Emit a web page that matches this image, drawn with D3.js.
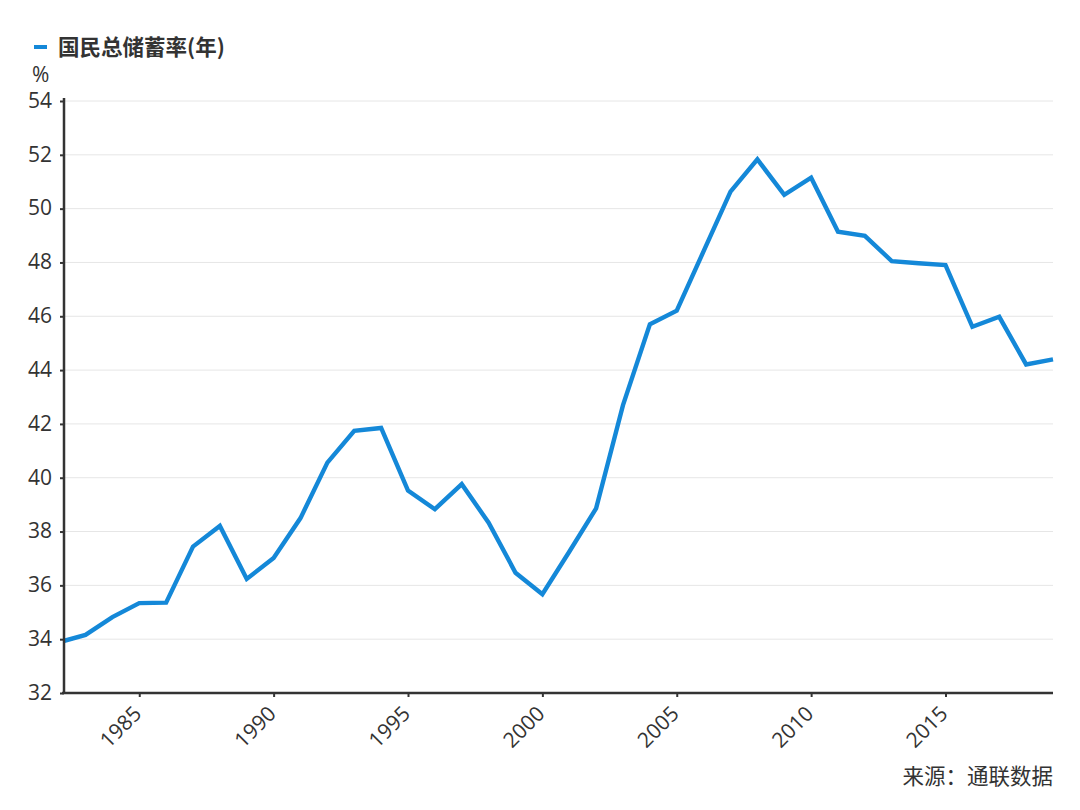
<!DOCTYPE html>
<html>
<head>
<meta charset="utf-8">
<script src="https://cdn.jsdelivr.net/npm/d3@7"></script>
<style>
  html, body { margin: 0; padding: 0; background: #fff; }
  svg { display: block; }
  text { font-family: "Open Sans", "Noto Sans CJK SC", sans-serif; fill: #333; }
  .cjk { font-family: "Noto Sans CJK SC", "Open Sans", sans-serif; }
</style>
</head>
<body>
<svg id="chart" width="1080" height="810"></svg>
<script>
const seriesName = "国民总储蓄率(年)";
const unitLabel = "%";
const sourceText = "来源：通联数据";
const years = [1982, 1983, 1984, 1985, 1986, 1987, 1988, 1989, 1990, 1991,
  1992, 1993, 1994, 1995, 1996, 1997, 1998, 1999, 2000, 2001,
  2002, 2003, 2004, 2005, 2006, 2007, 2008, 2009, 2010, 2011,
  2012, 2013, 2014, 2015, 2016, 2017, 2018, 2019];
const savingRate = [33.88, 34.16, 34.82, 35.34, 35.36, 37.44, 38.21, 36.24, 37.02, 38.50,
  40.56, 41.74, 41.85, 39.52, 38.83, 39.76, 38.33, 36.47, 35.67, 37.25,
  38.86, 42.70, 45.70, 46.21, 48.42, 50.63, 51.83, 50.51, 51.15, 49.14,
  48.99, 48.05, 47.97, 47.90, 45.61, 45.98, 44.21, 44.40];
const xTickYears = [1985, 1990, 1995, 2000, 2005, 2010, 2015];
const yTicks = [32, 34, 36, 38, 40, 42, 44, 46, 48, 50, 52, 54];
const xDomain = [1982.2, 2019];
const yDomain = [32, 54];

(function () {
const svg = d3.select("#chart");
const pLeft = 64, pRight = 1053, pTop = 101, pBottom = 693;

const x = d3.scaleLinear().domain(xDomain).range([pLeft, pRight]);
const y = d3.scaleLinear().domain(yDomain).range([pBottom, pTop]);

// gridlines
svg.append("g").selectAll("line").data(yTicks.filter(d => d !== yDomain[0])).join("line")
  .attr("x1", pLeft).attr("x2", pRight)
  .attr("y1", d => y(d)).attr("y2", d => y(d))
  .attr("stroke", "#e6e6e6").attr("stroke-width", 1);

// clip
svg.append("defs").append("clipPath").attr("id", "plotclip")
  .append("rect").attr("x", pLeft).attr("y", pTop - 20).attr("width", pRight - pLeft + 2).attr("height", pBottom - pTop + 40);

// line
const data = years.map((yr, i) => ({ yr, v: savingRate[i] }));
svg.append("path").datum(data)
  .attr("clip-path", "url(#plotclip)")
  .attr("fill", "none")
  .attr("stroke", "#1488d8")
  .attr("stroke-width", 4.4)
  .attr("d", d3.line().x(d => x(d.yr)).y(d => y(d.v)));

// y axis
const yAxis = svg.append("g").attr("transform", `translate(${pLeft},0)`)
  .call(d3.axisLeft(y).tickValues(yTicks).tickSize(4).tickPadding(8).tickFormat(d3.format("d")));
yAxis.select(".domain").attr("stroke", "#333").attr("stroke-width", 2.5).attr("d", `M0,${pTop - 3}V${pBottom}`);
yAxis.selectAll(".tick line").attr("stroke", "#333").attr("stroke-width", 2);
yAxis.selectAll(".tick text").attr("font-size", 21).attr("font-family", "Open Sans").attr("fill", "#333")
  .attr("dy", "0.3em");

// x axis
const xAxis = svg.append("g").attr("transform", `translate(0,${pBottom})`)
  .call(d3.axisBottom(x).tickValues(xTickYears).tickSize(4).tickFormat(d3.format("d")));
xAxis.select(".domain").attr("stroke", "#333").attr("stroke-width", 2.5).attr("d", `M${pLeft - 2},0H${pRight}`);
xAxis.selectAll(".tick line").attr("stroke", "#333").attr("stroke-width", 2);
xAxis.selectAll(".tick text")
  .attr("font-size", 21).attr("font-family", "Open Sans").attr("fill", "#333")
  .attr("text-anchor", "end")
  .attr("dy", null).attr("y", null)
  .attr("transform", "translate(3,22) rotate(-45)");

// unit label
svg.append("text").attr("x", 32).attr("y", 81.5).attr("font-size", 21).text(unitLabel);

// legend
svg.append("line").attr("x1", 34).attr("x2", 47).attr("y1", 47).attr("y2", 47)
  .attr("stroke", "#1488d8").attr("stroke-width", 4);
svg.append("text").attr("class", "cjk").attr("x", 58).attr("y", 54.5)
  .attr("font-size", 21.5).attr("font-weight", "bold").text(seriesName);

// source
svg.append("text").attr("class", "cjk").attr("x", pRight).attr("y", 784)
  .attr("text-anchor", "end").attr("font-size", 21.5).text(sourceText);
})();
</script>
</body>
</html>
